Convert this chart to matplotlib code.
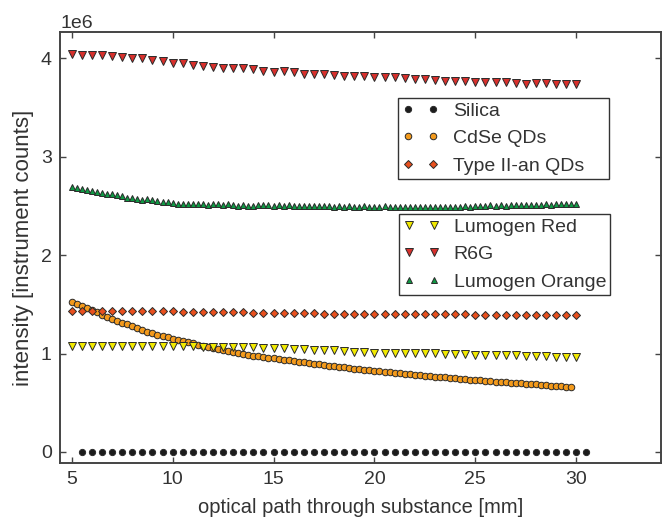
import numpy as np
import matplotlib
matplotlib.use("Agg")
import matplotlib.pyplot as plt

plt.rcParams['font.family'] = ['Liberation Sans', 'DejaVu Sans']

# optical path lengths [mm]
x_half = [5 + 0.5 * i for i in range(51)]            # 5.0 ... 30.0
x_silica = [5.5 + 0.5 * i for i in range(51)]        # 5.5 ... 30.5
x_cdse = [5 + 0.25 * i for i in range(100)]          # 5.0 ... 29.75
x_lorange = [5 + 0.25 * i for i in range(101)]       # 5.0 ... 30.0

# intensities [1e6 counts]
silica = [0.003, 0.002, 0.003, 0.002, 0.003, 0.003, 0.002, 0.003, 0.002, 0.003,
          0.003, 0.002, 0.003, 0.002, 0.003, 0.003, 0.002, 0.003, 0.002, 0.003,
          0.003, 0.002, 0.003, 0.002, 0.003, 0.003, 0.002, 0.003, 0.002, 0.003,
          0.003, 0.002, 0.003, 0.002, 0.003, 0.003, 0.002, 0.003, 0.002, 0.003,
          0.003, 0.002, 0.003, 0.002, 0.003, 0.003, 0.002, 0.003, 0.002, 0.003,
          0.003]

cdse = [1.528, 1.504, 1.484, 1.467, 1.443, 1.419, 1.392, 1.368, 1.352, 1.335,
        1.314, 1.297, 1.280, 1.260, 1.240, 1.223, 1.206, 1.192, 1.179, 1.165,
        1.152, 1.138, 1.125, 1.115, 1.104, 1.091, 1.081, 1.070, 1.060, 1.050,
        1.040, 1.030, 1.020, 1.009, 0.999, 0.989, 0.979,
        0.971, 0.964, 0.957, 0.950, 0.943, 0.936, 0.930, 0.923,
        0.916, 0.910, 0.903, 0.897, 0.891, 0.884, 0.878, 0.872,
        0.866, 0.860, 0.854, 0.848, 0.842, 0.837, 0.831, 0.826,
        0.821, 0.815, 0.810, 0.805, 0.800, 0.795, 0.790, 0.785,
        0.780, 0.775, 0.771, 0.766, 0.761, 0.757, 0.752, 0.748,
        0.744, 0.739, 0.735, 0.731, 0.727, 0.723, 0.719, 0.715,
        0.711, 0.707, 0.704, 0.700, 0.696, 0.693, 0.689, 0.686,
        0.682, 0.679, 0.675, 0.672, 0.668, 0.664, 0.660]

type2 = [1.433, 1.432, 1.428, 1.430, 1.431, 1.432, 1.430, 1.429, 1.428, 1.429,
         1.428, 1.426, 1.425, 1.424, 1.422, 1.421, 1.419, 1.418, 1.416, 1.414,
         1.413, 1.411, 1.410, 1.409, 1.408, 1.407, 1.405, 1.405, 1.404, 1.404,
         1.403, 1.402, 1.402, 1.401, 1.401, 1.400, 1.400, 1.399, 1.398, 1.398,
         1.397, 1.397, 1.396, 1.396, 1.395, 1.394, 1.394, 1.393, 1.393, 1.392,
         1.392]

lumogen_red = [1.080, 1.080, 1.080, 1.080, 1.080, 1.080, 1.078, 1.077, 1.076, 1.075,
               1.075, 1.073, 1.072, 1.071, 1.070, 1.069, 1.068, 1.068, 1.067, 1.053,
               1.053, 1.053, 1.043, 1.043, 1.033, 1.033, 1.033, 1.026, 1.019, 1.019,
               1.009, 1.009, 1.009, 1.009, 1.002, 1.002, 1.002, 0.999, 0.992, 0.992,
               0.989, 0.989, 0.982, 0.982, 0.982, 0.975, 0.972, 0.972, 0.965, 0.965,
               0.965]

r6g = [4.040, 4.033, 4.030, 4.030, 4.023, 4.016, 4.006, 3.999, 3.982, 3.972,
       3.955, 3.948, 3.935, 3.921, 3.914, 3.904, 3.904, 3.901, 3.887, 3.873,
       3.860, 3.870, 3.860, 3.846, 3.846, 3.840,
       3.829, 3.819, 3.819, 3.819, 3.812, 3.809, 3.809, 3.802, 3.795, 3.795,
       3.785, 3.775, 3.768, 3.768, 3.761, 3.758, 3.758, 3.758, 3.751, 3.744,
       3.751, 3.751, 3.744, 3.744, 3.744]

lumogen_orange = [2.690, 2.680, 2.673, 2.663, 2.649, 2.639, 2.632, 2.619, 2.619, 2.615,
                  2.598, 2.585, 2.585, 2.571, 2.564, 2.571, 2.561, 2.551, 2.544, 2.544,
                  2.530, 2.523, 2.520, 2.523, 2.520, 2.517, 2.520, 2.510, 2.517, 2.517,
                  2.513, 2.517, 2.506, 2.503, 2.510, 2.503, 2.503,
                  2.505, 2.510, 2.505, 2.500, 2.505, 2.500, 2.505, 2.500,
                  2.500, 2.495, 2.500, 2.495, 2.495, 2.500, 2.495, 2.490,
                  2.495, 2.490, 2.495, 2.490, 2.490, 2.495, 2.490, 2.490,
                  2.490, 2.495, 2.490, 2.490, 2.485, 2.490, 2.490, 2.485,
                  2.490, 2.485, 2.490, 2.485, 2.485, 2.490, 2.485, 2.490,
                  2.490, 2.495, 2.490, 2.500, 2.495, 2.500, 2.505, 2.500,
                  2.505, 2.500, 2.505, 2.510, 2.505, 2.510, 2.505, 2.510,
                  2.510, 2.515, 2.510, 2.515, 2.515, 2.520, 2.515, 2.520]

text_col = '#333333'
edge = '#2a2a2a'
fs_tick = 14
fs_leg = 14

fig = plt.figure(figsize=(6.62, 5.17), dpi=100)
ax = fig.add_axes([60 / 662, 1 - 463 / 517, 601 / 662, 431 / 517])

def series(x, y, marker, color, ms, label):
    return ax.plot(np.array(x), np.array(y) * 1e6, linestyle='none', marker=marker,
                   markersize=ms, markerfacecolor=color, markeredgecolor=edge,
                   markeredgewidth=0.7, label=label)[0]

h_si = series(x_silica, silica, 'o', '#1c1c1c', 4.5, 'Silica')
h_cd = series(x_cdse, cdse, 'o', '#f39a1c', 4.7, 'CdSe QDs')
h_t2 = series(x_half, type2, 'D', '#e8501e', 4.5, 'Type II-an QDs')
h_lr = series(x_half, lumogen_red, 'v', '#f2ea00', 5.5, 'Lumogen Red')
h_r6 = series(x_half, r6g, 'v', '#d8302c', 5.5, 'R6G')
h_lo = series(x_lorange, lumogen_orange, '^', '#0e9a44', 4.2, 'Lumogen Orange')

ax.set_xlim(4.42, 34.2)
ax.set_ylim(-0.112e6, 4.268e6)
ax.set_xticks([5, 10, 15, 20, 25, 30])
ax.set_yticks([0, 1e6, 2e6, 3e6, 4e6])

for s in ax.spines.values():
    s.set_color('#444444')
    s.set_linewidth(1.4)
ax.tick_params(direction='in', length=4, width=1.0, color='#444444',
               top=True, right=True, labelsize=fs_tick, labelcolor=text_col, pad=6)
ax.yaxis.get_offset_text().set_fontsize(fs_tick)
ax.yaxis.get_offset_text().set_color(text_col)

ax.set_xlabel('optical path through substance [mm]', fontsize=14.5, color=text_col,
              labelpad=7)
ax.set_ylabel('intensity [instrument counts]', fontsize=16, color=text_col,
              labelpad=5)

leg_kw = dict(loc='upper left', bbox_transform=fig.transFigure, numpoints=2,
              mode='expand', fontsize=fs_leg, frameon=True, fancybox=False,
              borderaxespad=0, handlelength=1.9, handletextpad=0.7,
              labelspacing=0.5, borderpad=0.22)
leg1 = fig.legend([h_si, h_cd, h_t2], ['Silica', 'CdSe QDs', 'Type II-an QDs'],
                  bbox_to_anchor=(398 / 662, (517 - 180) / 517, 211 / 662, 82 / 517),
                  **leg_kw)
leg2 = fig.legend([h_lr, h_r6, h_lo], ['Lumogen Red', 'R6G', 'Lumogen Orange'],
                  bbox_to_anchor=(399 / 662, (517 - 296) / 517, 211 / 662, 82 / 517),
                  **leg_kw)
for leg in (leg1, leg2):
    fr = leg.get_frame()
    fr.set_edgecolor('#333333')
    fr.set_linewidth(1.0)
    fr.set_alpha(1)
    for t in leg.get_texts():
        t.set_color(text_col)

fig.savefig('out.png', dpi=100)
